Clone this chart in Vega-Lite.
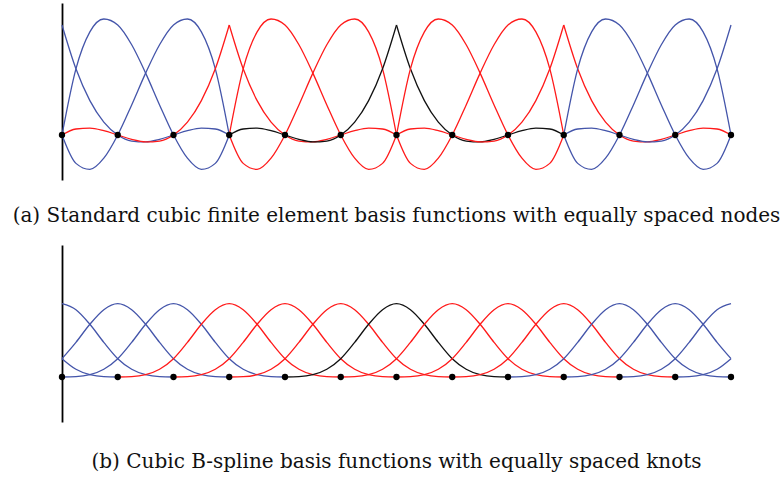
{
"$schema": "https://vega.github.io/schema/vega-lite/v6.json",
"padding": {"left": 12, "top": 3, "right": 0, "bottom": 0},
"background": "white",
"config": {"view": {"stroke": null}, "title": {"font": "DejaVu Serif", "fontSize": 20, "fontWeight": "normal", "color": "#111111"}, "axis": {"domainColor": "black", "domainWidth": 1.8, "ticks": false, "labels": false, "grid": false}},
"spacing": 65,
"bounds": "flush",
"datasets": {
"nodes": [{"x":0},{"x":1},{"x":2},{"x":3},{"x":4},{"x":5},{"x":6},{"x":7},{"x":8},{"x":9},{"x":10},{"x":11},{"x":12}],
"fe": [
{"p":"a0","g":"b","x":0,"y":1},{"p":"a0","g":"b","x":0.25,"y":0.6016},{"p":"a0","g":"b","x":0.5,"y":0.3125},{"p":"a0","g":"b","x":0.75,"y":0.1172},{"p":"a0","g":"b","x":1,"y":0},{"p":"a0","g":"b","x":1.25,"y":-0.0547},{"p":"a0","g":"b","x":1.5,"y":-0.0625},{"p":"a0","g":"b","x":1.75,"y":-0.0391},{"p":"a0","g":"b","x":2,"y":0},{"p":"a0","g":"b","x":2.25,"y":0.0391},{"p":"a0","g":"b","x":2.5,"y":0.0625},{"p":"a0","g":"b","x":2.75,"y":0.0547},{"p":"a0","g":"b","x":3,"y":0},
{"p":"a1","g":"b","x":0,"y":0},{"p":"a1","g":"b","x":0.25,"y":0.6016},{"p":"a1","g":"b","x":0.5,"y":0.9375},{"p":"a1","g":"b","x":0.75,"y":1.0547},{"p":"a1","g":"b","x":1,"y":1},{"p":"a1","g":"b","x":1.25,"y":0.8203},{"p":"a1","g":"b","x":1.5,"y":0.5625},{"p":"a1","g":"b","x":1.75,"y":0.2734},{"p":"a1","g":"b","x":2,"y":0},{"p":"a1","g":"b","x":2.25,"y":-0.2109},{"p":"a1","g":"b","x":2.5,"y":-0.3125},{"p":"a1","g":"b","x":2.75,"y":-0.2578},{"p":"a1","g":"b","x":3,"y":0},
{"p":"a2","g":"b","x":0,"y":0},{"p":"a2","g":"b","x":0.25,"y":-0.2578},{"p":"a2","g":"b","x":0.5,"y":-0.3125},{"p":"a2","g":"b","x":0.75,"y":-0.2109},{"p":"a2","g":"b","x":1,"y":0},{"p":"a2","g":"b","x":1.25,"y":0.2734},{"p":"a2","g":"b","x":1.5,"y":0.5625},{"p":"a2","g":"b","x":1.75,"y":0.8203},{"p":"a2","g":"b","x":2,"y":1},{"p":"a2","g":"b","x":2.25,"y":1.0547},{"p":"a2","g":"b","x":2.5,"y":0.9375},{"p":"a2","g":"b","x":2.75,"y":0.6016},{"p":"a2","g":"b","x":3,"y":0},
{"p":"a3L","g":"r","x":0,"y":0},{"p":"a3L","g":"r","x":0.25,"y":0.0547},{"p":"a3L","g":"r","x":0.5,"y":0.0625},{"p":"a3L","g":"r","x":0.75,"y":0.0391},{"p":"a3L","g":"r","x":1,"y":0},{"p":"a3L","g":"r","x":1.25,"y":-0.0391},{"p":"a3L","g":"r","x":1.5,"y":-0.0625},{"p":"a3L","g":"r","x":1.75,"y":-0.0547},{"p":"a3L","g":"r","x":2,"y":0},{"p":"a3L","g":"r","x":2.25,"y":0.1172},{"p":"a3L","g":"r","x":2.5,"y":0.3125},{"p":"a3L","g":"r","x":2.75,"y":0.6016},{"p":"a3L","g":"r","x":3,"y":1},
{"p":"a3R","g":"r","x":3,"y":1},{"p":"a3R","g":"r","x":3.25,"y":0.6016},{"p":"a3R","g":"r","x":3.5,"y":0.3125},{"p":"a3R","g":"r","x":3.75,"y":0.1172},{"p":"a3R","g":"r","x":4,"y":0},{"p":"a3R","g":"r","x":4.25,"y":-0.0547},{"p":"a3R","g":"r","x":4.5,"y":-0.0625},{"p":"a3R","g":"r","x":4.75,"y":-0.0391},{"p":"a3R","g":"r","x":5,"y":0},{"p":"a3R","g":"r","x":5.25,"y":0.0391},{"p":"a3R","g":"r","x":5.5,"y":0.0625},{"p":"a3R","g":"r","x":5.75,"y":0.0547},{"p":"a3R","g":"r","x":6,"y":0},
{"p":"a4","g":"r","x":3,"y":0},{"p":"a4","g":"r","x":3.25,"y":0.6016},{"p":"a4","g":"r","x":3.5,"y":0.9375},{"p":"a4","g":"r","x":3.75,"y":1.0547},{"p":"a4","g":"r","x":4,"y":1},{"p":"a4","g":"r","x":4.25,"y":0.8203},{"p":"a4","g":"r","x":4.5,"y":0.5625},{"p":"a4","g":"r","x":4.75,"y":0.2734},{"p":"a4","g":"r","x":5,"y":0},{"p":"a4","g":"r","x":5.25,"y":-0.2109},{"p":"a4","g":"r","x":5.5,"y":-0.3125},{"p":"a4","g":"r","x":5.75,"y":-0.2578},{"p":"a4","g":"r","x":6,"y":0},
{"p":"a5","g":"r","x":3,"y":0},{"p":"a5","g":"r","x":3.25,"y":-0.2578},{"p":"a5","g":"r","x":3.5,"y":-0.3125},{"p":"a5","g":"r","x":3.75,"y":-0.2109},{"p":"a5","g":"r","x":4,"y":0},{"p":"a5","g":"r","x":4.25,"y":0.2734},{"p":"a5","g":"r","x":4.5,"y":0.5625},{"p":"a5","g":"r","x":4.75,"y":0.8203},{"p":"a5","g":"r","x":5,"y":1},{"p":"a5","g":"r","x":5.25,"y":1.0547},{"p":"a5","g":"r","x":5.5,"y":0.9375},{"p":"a5","g":"r","x":5.75,"y":0.6016},{"p":"a5","g":"r","x":6,"y":0},
{"p":"a6L","g":"k","x":3,"y":0},{"p":"a6L","g":"k","x":3.25,"y":0.0547},{"p":"a6L","g":"k","x":3.5,"y":0.0625},{"p":"a6L","g":"k","x":3.75,"y":0.0391},{"p":"a6L","g":"k","x":4,"y":0},{"p":"a6L","g":"k","x":4.25,"y":-0.0391},{"p":"a6L","g":"k","x":4.5,"y":-0.0625},{"p":"a6L","g":"k","x":4.75,"y":-0.0547},{"p":"a6L","g":"k","x":5,"y":0},{"p":"a6L","g":"k","x":5.25,"y":0.1172},{"p":"a6L","g":"k","x":5.5,"y":0.3125},{"p":"a6L","g":"k","x":5.75,"y":0.6016},{"p":"a6L","g":"k","x":6,"y":1},
{"p":"a6R","g":"k","x":6,"y":1},{"p":"a6R","g":"k","x":6.25,"y":0.6016},{"p":"a6R","g":"k","x":6.5,"y":0.3125},{"p":"a6R","g":"k","x":6.75,"y":0.1172},{"p":"a6R","g":"k","x":7,"y":0},{"p":"a6R","g":"k","x":7.25,"y":-0.0547},{"p":"a6R","g":"k","x":7.5,"y":-0.0625},{"p":"a6R","g":"k","x":7.75,"y":-0.0391},{"p":"a6R","g":"k","x":8,"y":0},{"p":"a6R","g":"k","x":8.25,"y":0.0391},{"p":"a6R","g":"k","x":8.5,"y":0.0625},{"p":"a6R","g":"k","x":8.75,"y":0.0547},{"p":"a6R","g":"k","x":9,"y":0},
{"p":"a7","g":"r","x":6,"y":0},{"p":"a7","g":"r","x":6.25,"y":0.6016},{"p":"a7","g":"r","x":6.5,"y":0.9375},{"p":"a7","g":"r","x":6.75,"y":1.0547},{"p":"a7","g":"r","x":7,"y":1},{"p":"a7","g":"r","x":7.25,"y":0.8203},{"p":"a7","g":"r","x":7.5,"y":0.5625},{"p":"a7","g":"r","x":7.75,"y":0.2734},{"p":"a7","g":"r","x":8,"y":0},{"p":"a7","g":"r","x":8.25,"y":-0.2109},{"p":"a7","g":"r","x":8.5,"y":-0.3125},{"p":"a7","g":"r","x":8.75,"y":-0.2578},{"p":"a7","g":"r","x":9,"y":0},
{"p":"a8","g":"r","x":6,"y":0},{"p":"a8","g":"r","x":6.25,"y":-0.2578},{"p":"a8","g":"r","x":6.5,"y":-0.3125},{"p":"a8","g":"r","x":6.75,"y":-0.2109},{"p":"a8","g":"r","x":7,"y":0},{"p":"a8","g":"r","x":7.25,"y":0.2734},{"p":"a8","g":"r","x":7.5,"y":0.5625},{"p":"a8","g":"r","x":7.75,"y":0.8203},{"p":"a8","g":"r","x":8,"y":1},{"p":"a8","g":"r","x":8.25,"y":1.0547},{"p":"a8","g":"r","x":8.5,"y":0.9375},{"p":"a8","g":"r","x":8.75,"y":0.6016},{"p":"a8","g":"r","x":9,"y":0},
{"p":"a9L","g":"r","x":6,"y":0},{"p":"a9L","g":"r","x":6.25,"y":0.0547},{"p":"a9L","g":"r","x":6.5,"y":0.0625},{"p":"a9L","g":"r","x":6.75,"y":0.0391},{"p":"a9L","g":"r","x":7,"y":0},{"p":"a9L","g":"r","x":7.25,"y":-0.0391},{"p":"a9L","g":"r","x":7.5,"y":-0.0625},{"p":"a9L","g":"r","x":7.75,"y":-0.0547},{"p":"a9L","g":"r","x":8,"y":0},{"p":"a9L","g":"r","x":8.25,"y":0.1172},{"p":"a9L","g":"r","x":8.5,"y":0.3125},{"p":"a9L","g":"r","x":8.75,"y":0.6016},{"p":"a9L","g":"r","x":9,"y":1},
{"p":"a9R","g":"r","x":9,"y":1},{"p":"a9R","g":"r","x":9.25,"y":0.6016},{"p":"a9R","g":"r","x":9.5,"y":0.3125},{"p":"a9R","g":"r","x":9.75,"y":0.1172},{"p":"a9R","g":"r","x":10,"y":0},{"p":"a9R","g":"r","x":10.25,"y":-0.0547},{"p":"a9R","g":"r","x":10.5,"y":-0.0625},{"p":"a9R","g":"r","x":10.75,"y":-0.0391},{"p":"a9R","g":"r","x":11,"y":0},{"p":"a9R","g":"r","x":11.25,"y":0.0391},{"p":"a9R","g":"r","x":11.5,"y":0.0625},{"p":"a9R","g":"r","x":11.75,"y":0.0547},{"p":"a9R","g":"r","x":12,"y":0},
{"p":"a10","g":"b","x":9,"y":0},{"p":"a10","g":"b","x":9.25,"y":0.6016},{"p":"a10","g":"b","x":9.5,"y":0.9375},{"p":"a10","g":"b","x":9.75,"y":1.0547},{"p":"a10","g":"b","x":10,"y":1},{"p":"a10","g":"b","x":10.25,"y":0.8203},{"p":"a10","g":"b","x":10.5,"y":0.5625},{"p":"a10","g":"b","x":10.75,"y":0.2734},{"p":"a10","g":"b","x":11,"y":0},{"p":"a10","g":"b","x":11.25,"y":-0.2109},{"p":"a10","g":"b","x":11.5,"y":-0.3125},{"p":"a10","g":"b","x":11.75,"y":-0.2578},{"p":"a10","g":"b","x":12,"y":0},
{"p":"a11","g":"b","x":9,"y":0},{"p":"a11","g":"b","x":9.25,"y":-0.2578},{"p":"a11","g":"b","x":9.5,"y":-0.3125},{"p":"a11","g":"b","x":9.75,"y":-0.2109},{"p":"a11","g":"b","x":10,"y":0},{"p":"a11","g":"b","x":10.25,"y":0.2734},{"p":"a11","g":"b","x":10.5,"y":0.5625},{"p":"a11","g":"b","x":10.75,"y":0.8203},{"p":"a11","g":"b","x":11,"y":1},{"p":"a11","g":"b","x":11.25,"y":1.0547},{"p":"a11","g":"b","x":11.5,"y":0.9375},{"p":"a11","g":"b","x":11.75,"y":0.6016},{"p":"a11","g":"b","x":12,"y":0},
{"p":"a12","g":"b","x":9,"y":0},{"p":"a12","g":"b","x":9.25,"y":0.0547},{"p":"a12","g":"b","x":9.5,"y":0.0625},{"p":"a12","g":"b","x":9.75,"y":0.0391},{"p":"a12","g":"b","x":10,"y":0},{"p":"a12","g":"b","x":10.25,"y":-0.0391},{"p":"a12","g":"b","x":10.5,"y":-0.0625},{"p":"a12","g":"b","x":10.75,"y":-0.0547},{"p":"a12","g":"b","x":11,"y":0},{"p":"a12","g":"b","x":11.25,"y":0.1172},{"p":"a12","g":"b","x":11.5,"y":0.3125},{"p":"a12","g":"b","x":11.75,"y":0.6016},{"p":"a12","g":"b","x":12,"y":1}
],
"bs": [
{"p":"bm1","g":"b","x":0,"y":0.1667},{"p":"bm1","g":"b","x":0.25,"y":0.0703},{"p":"bm1","g":"b","x":0.5,"y":0.0208},{"p":"bm1","g":"b","x":0.75,"y":0.0026},{"p":"bm1","g":"b","x":1,"y":0},
{"p":"b0","g":"b","x":0,"y":0.6667},{"p":"b0","g":"b","x":0.25,"y":0.612},{"p":"b0","g":"b","x":0.5,"y":0.4792},{"p":"b0","g":"b","x":0.75,"y":0.3151},{"p":"b0","g":"b","x":1,"y":0.1667},{"p":"b0","g":"b","x":1.25,"y":0.0703},{"p":"b0","g":"b","x":1.5,"y":0.0208},{"p":"b0","g":"b","x":1.75,"y":0.0026},{"p":"b0","g":"b","x":2,"y":0},
{"p":"b1","g":"b","x":0,"y":0.1667},{"p":"b1","g":"b","x":0.25,"y":0.3151},{"p":"b1","g":"b","x":0.5,"y":0.4792},{"p":"b1","g":"b","x":0.75,"y":0.612},{"p":"b1","g":"b","x":1,"y":0.6667},{"p":"b1","g":"b","x":1.25,"y":0.612},{"p":"b1","g":"b","x":1.5,"y":0.4792},{"p":"b1","g":"b","x":1.75,"y":0.3151},{"p":"b1","g":"b","x":2,"y":0.1667},{"p":"b1","g":"b","x":2.25,"y":0.0703},{"p":"b1","g":"b","x":2.5,"y":0.0208},{"p":"b1","g":"b","x":2.75,"y":0.0026},{"p":"b1","g":"b","x":3,"y":0},
{"p":"b2","g":"b","x":0,"y":0},{"p":"b2","g":"b","x":0.25,"y":0.0026},{"p":"b2","g":"b","x":0.5,"y":0.0208},{"p":"b2","g":"b","x":0.75,"y":0.0703},{"p":"b2","g":"b","x":1,"y":0.1667},{"p":"b2","g":"b","x":1.25,"y":0.3151},{"p":"b2","g":"b","x":1.5,"y":0.4792},{"p":"b2","g":"b","x":1.75,"y":0.612},{"p":"b2","g":"b","x":2,"y":0.6667},{"p":"b2","g":"b","x":2.25,"y":0.612},{"p":"b2","g":"b","x":2.5,"y":0.4792},{"p":"b2","g":"b","x":2.75,"y":0.3151},{"p":"b2","g":"b","x":3,"y":0.1667},{"p":"b2","g":"b","x":3.25,"y":0.0703},{"p":"b2","g":"b","x":3.5,"y":0.0208},{"p":"b2","g":"b","x":3.75,"y":0.0026},{"p":"b2","g":"b","x":4,"y":0},
{"p":"b3","g":"r","x":1,"y":0},{"p":"b3","g":"r","x":1.25,"y":0.0026},{"p":"b3","g":"r","x":1.5,"y":0.0208},{"p":"b3","g":"r","x":1.75,"y":0.0703},{"p":"b3","g":"r","x":2,"y":0.1667},{"p":"b3","g":"r","x":2.25,"y":0.3151},{"p":"b3","g":"r","x":2.5,"y":0.4792},{"p":"b3","g":"r","x":2.75,"y":0.612},{"p":"b3","g":"r","x":3,"y":0.6667},{"p":"b3","g":"r","x":3.25,"y":0.612},{"p":"b3","g":"r","x":3.5,"y":0.4792},{"p":"b3","g":"r","x":3.75,"y":0.3151},{"p":"b3","g":"r","x":4,"y":0.1667},{"p":"b3","g":"r","x":4.25,"y":0.0703},{"p":"b3","g":"r","x":4.5,"y":0.0208},{"p":"b3","g":"r","x":4.75,"y":0.0026},{"p":"b3","g":"r","x":5,"y":0},
{"p":"b4","g":"r","x":2,"y":0},{"p":"b4","g":"r","x":2.25,"y":0.0026},{"p":"b4","g":"r","x":2.5,"y":0.0208},{"p":"b4","g":"r","x":2.75,"y":0.0703},{"p":"b4","g":"r","x":3,"y":0.1667},{"p":"b4","g":"r","x":3.25,"y":0.3151},{"p":"b4","g":"r","x":3.5,"y":0.4792},{"p":"b4","g":"r","x":3.75,"y":0.612},{"p":"b4","g":"r","x":4,"y":0.6667},{"p":"b4","g":"r","x":4.25,"y":0.612},{"p":"b4","g":"r","x":4.5,"y":0.4792},{"p":"b4","g":"r","x":4.75,"y":0.3151},{"p":"b4","g":"r","x":5,"y":0.1667},{"p":"b4","g":"r","x":5.25,"y":0.0703},{"p":"b4","g":"r","x":5.5,"y":0.0208},{"p":"b4","g":"r","x":5.75,"y":0.0026},{"p":"b4","g":"r","x":6,"y":0},
{"p":"b5","g":"r","x":3,"y":0},{"p":"b5","g":"r","x":3.25,"y":0.0026},{"p":"b5","g":"r","x":3.5,"y":0.0208},{"p":"b5","g":"r","x":3.75,"y":0.0703},{"p":"b5","g":"r","x":4,"y":0.1667},{"p":"b5","g":"r","x":4.25,"y":0.3151},{"p":"b5","g":"r","x":4.5,"y":0.4792},{"p":"b5","g":"r","x":4.75,"y":0.612},{"p":"b5","g":"r","x":5,"y":0.6667},{"p":"b5","g":"r","x":5.25,"y":0.612},{"p":"b5","g":"r","x":5.5,"y":0.4792},{"p":"b5","g":"r","x":5.75,"y":0.3151},{"p":"b5","g":"r","x":6,"y":0.1667},{"p":"b5","g":"r","x":6.25,"y":0.0703},{"p":"b5","g":"r","x":6.5,"y":0.0208},{"p":"b5","g":"r","x":6.75,"y":0.0026},{"p":"b5","g":"r","x":7,"y":0},
{"p":"b6","g":"k","x":4,"y":0},{"p":"b6","g":"k","x":4.25,"y":0.0026},{"p":"b6","g":"k","x":4.5,"y":0.0208},{"p":"b6","g":"k","x":4.75,"y":0.0703},{"p":"b6","g":"k","x":5,"y":0.1667},{"p":"b6","g":"k","x":5.25,"y":0.3151},{"p":"b6","g":"k","x":5.5,"y":0.4792},{"p":"b6","g":"k","x":5.75,"y":0.612},{"p":"b6","g":"k","x":6,"y":0.6667},{"p":"b6","g":"k","x":6.25,"y":0.612},{"p":"b6","g":"k","x":6.5,"y":0.4792},{"p":"b6","g":"k","x":6.75,"y":0.3151},{"p":"b6","g":"k","x":7,"y":0.1667},{"p":"b6","g":"k","x":7.25,"y":0.0703},{"p":"b6","g":"k","x":7.5,"y":0.0208},{"p":"b6","g":"k","x":7.75,"y":0.0026},{"p":"b6","g":"k","x":8,"y":0},
{"p":"b7","g":"r","x":5,"y":0},{"p":"b7","g":"r","x":5.25,"y":0.0026},{"p":"b7","g":"r","x":5.5,"y":0.0208},{"p":"b7","g":"r","x":5.75,"y":0.0703},{"p":"b7","g":"r","x":6,"y":0.1667},{"p":"b7","g":"r","x":6.25,"y":0.3151},{"p":"b7","g":"r","x":6.5,"y":0.4792},{"p":"b7","g":"r","x":6.75,"y":0.612},{"p":"b7","g":"r","x":7,"y":0.6667},{"p":"b7","g":"r","x":7.25,"y":0.612},{"p":"b7","g":"r","x":7.5,"y":0.4792},{"p":"b7","g":"r","x":7.75,"y":0.3151},{"p":"b7","g":"r","x":8,"y":0.1667},{"p":"b7","g":"r","x":8.25,"y":0.0703},{"p":"b7","g":"r","x":8.5,"y":0.0208},{"p":"b7","g":"r","x":8.75,"y":0.0026},{"p":"b7","g":"r","x":9,"y":0},
{"p":"b8","g":"r","x":6,"y":0},{"p":"b8","g":"r","x":6.25,"y":0.0026},{"p":"b8","g":"r","x":6.5,"y":0.0208},{"p":"b8","g":"r","x":6.75,"y":0.0703},{"p":"b8","g":"r","x":7,"y":0.1667},{"p":"b8","g":"r","x":7.25,"y":0.3151},{"p":"b8","g":"r","x":7.5,"y":0.4792},{"p":"b8","g":"r","x":7.75,"y":0.612},{"p":"b8","g":"r","x":8,"y":0.6667},{"p":"b8","g":"r","x":8.25,"y":0.612},{"p":"b8","g":"r","x":8.5,"y":0.4792},{"p":"b8","g":"r","x":8.75,"y":0.3151},{"p":"b8","g":"r","x":9,"y":0.1667},{"p":"b8","g":"r","x":9.25,"y":0.0703},{"p":"b8","g":"r","x":9.5,"y":0.0208},{"p":"b8","g":"r","x":9.75,"y":0.0026},{"p":"b8","g":"r","x":10,"y":0},
{"p":"b9","g":"r","x":7,"y":0},{"p":"b9","g":"r","x":7.25,"y":0.0026},{"p":"b9","g":"r","x":7.5,"y":0.0208},{"p":"b9","g":"r","x":7.75,"y":0.0703},{"p":"b9","g":"r","x":8,"y":0.1667},{"p":"b9","g":"r","x":8.25,"y":0.3151},{"p":"b9","g":"r","x":8.5,"y":0.4792},{"p":"b9","g":"r","x":8.75,"y":0.612},{"p":"b9","g":"r","x":9,"y":0.6667},{"p":"b9","g":"r","x":9.25,"y":0.612},{"p":"b9","g":"r","x":9.5,"y":0.4792},{"p":"b9","g":"r","x":9.75,"y":0.3151},{"p":"b9","g":"r","x":10,"y":0.1667},{"p":"b9","g":"r","x":10.25,"y":0.0703},{"p":"b9","g":"r","x":10.5,"y":0.0208},{"p":"b9","g":"r","x":10.75,"y":0.0026},{"p":"b9","g":"r","x":11,"y":0},
{"p":"b10","g":"b","x":8,"y":0},{"p":"b10","g":"b","x":8.25,"y":0.0026},{"p":"b10","g":"b","x":8.5,"y":0.0208},{"p":"b10","g":"b","x":8.75,"y":0.0703},{"p":"b10","g":"b","x":9,"y":0.1667},{"p":"b10","g":"b","x":9.25,"y":0.3151},{"p":"b10","g":"b","x":9.5,"y":0.4792},{"p":"b10","g":"b","x":9.75,"y":0.612},{"p":"b10","g":"b","x":10,"y":0.6667},{"p":"b10","g":"b","x":10.25,"y":0.612},{"p":"b10","g":"b","x":10.5,"y":0.4792},{"p":"b10","g":"b","x":10.75,"y":0.3151},{"p":"b10","g":"b","x":11,"y":0.1667},{"p":"b10","g":"b","x":11.25,"y":0.0703},{"p":"b10","g":"b","x":11.5,"y":0.0208},{"p":"b10","g":"b","x":11.75,"y":0.0026},{"p":"b10","g":"b","x":12,"y":0},
{"p":"b11","g":"b","x":9,"y":0},{"p":"b11","g":"b","x":9.25,"y":0.0026},{"p":"b11","g":"b","x":9.5,"y":0.0208},{"p":"b11","g":"b","x":9.75,"y":0.0703},{"p":"b11","g":"b","x":10,"y":0.1667},{"p":"b11","g":"b","x":10.25,"y":0.3151},{"p":"b11","g":"b","x":10.5,"y":0.4792},{"p":"b11","g":"b","x":10.75,"y":0.612},{"p":"b11","g":"b","x":11,"y":0.6667},{"p":"b11","g":"b","x":11.25,"y":0.612},{"p":"b11","g":"b","x":11.5,"y":0.4792},{"p":"b11","g":"b","x":11.75,"y":0.3151},{"p":"b11","g":"b","x":12,"y":0.1667},
{"p":"b12","g":"b","x":10,"y":0},{"p":"b12","g":"b","x":10.25,"y":0.0026},{"p":"b12","g":"b","x":10.5,"y":0.0208},{"p":"b12","g":"b","x":10.75,"y":0.0703},{"p":"b12","g":"b","x":11,"y":0.1667},{"p":"b12","g":"b","x":11.25,"y":0.3151},{"p":"b12","g":"b","x":11.5,"y":0.4792},{"p":"b12","g":"b","x":11.75,"y":0.612},{"p":"b12","g":"b","x":12,"y":0.6667},
{"p":"b13","g":"b","x":11,"y":0},{"p":"b13","g":"b","x":11.25,"y":0.0026},{"p":"b13","g":"b","x":11.5,"y":0.0208},{"p":"b13","g":"b","x":11.75,"y":0.0703},{"p":"b13","g":"b","x":12,"y":0.1667}
]
},
"vconcat": [
{
"width": 669, "height": 177,
"title": {"text": "(a) Standard cubic finite element basis functions with equally spaced nodes", "orient": "bottom", "baseline": "alphabetic", "offset": 42},
"layer": [
{"data": {"name": "fe"}, "mark": {"type": "line", "interpolate": "monotone", "strokeWidth": 1.3},
 "encoding": {
  "x": {"field": "x", "type": "quantitative", "scale": {"domain": [0, 12], "nice": false, "zero": false}, "axis": null},
  "y": {"field": "y", "type": "quantitative", "scale": {"domain": [-0.409, 1.2], "nice": false, "zero": false}, "axis": {"title": null}},
  "detail": {"field": "p"},
  "color": {"field": "g", "type": "nominal", "scale": {"domain": ["b", "r", "k"], "range": ["#4455aa", "#ff1a1a", "#111111"]}, "legend": null}
 }},
{"mark": {"type": "rule", "color": "black", "strokeWidth": 1.6}, "encoding": {"y": {"datum": 0, "type": "quantitative", "axis": {"title": null}}}},
{"data": {"name": "nodes"}, "mark": {"type": "point", "filled": true, "size": 40, "color": "black", "opacity": 1},
 "encoding": {"x": {"field": "x", "type": "quantitative", "axis": null}, "y": {"datum": 0, "type": "quantitative", "axis": {"title": null}}}}
]
},
{
"width": 669, "height": 177,
"title": {"text": "(b) Cubic B-spline basis functions with equally spaced knots", "orient": "bottom", "baseline": "alphabetic", "offset": 46},
"layer": [
{"data": {"name": "bs"}, "mark": {"type": "line", "interpolate": "monotone", "strokeWidth": 1.3},
 "encoding": {
  "x": {"field": "x", "type": "quantitative", "scale": {"domain": [0, 12], "nice": false, "zero": false}, "axis": null},
  "y": {"field": "y", "type": "quantitative", "scale": {"domain": [-0.409, 1.2], "nice": false, "zero": false}, "axis": {"title": null}},
  "detail": {"field": "p"},
  "color": {"field": "g", "type": "nominal", "scale": {"domain": ["b", "r", "k"], "range": ["#4455aa", "#ff1a1a", "#111111"]}, "legend": null}
 }},
{"mark": {"type": "rule", "color": "black", "strokeWidth": 1.6}, "encoding": {"y": {"datum": 0, "type": "quantitative", "axis": {"title": null}}}},
{"data": {"name": "nodes"}, "mark": {"type": "point", "filled": true, "size": 40, "color": "black", "opacity": 1},
 "encoding": {"x": {"field": "x", "type": "quantitative", "axis": null}, "y": {"datum": 0, "type": "quantitative", "axis": {"title": null}}}}
]
}
]
}
